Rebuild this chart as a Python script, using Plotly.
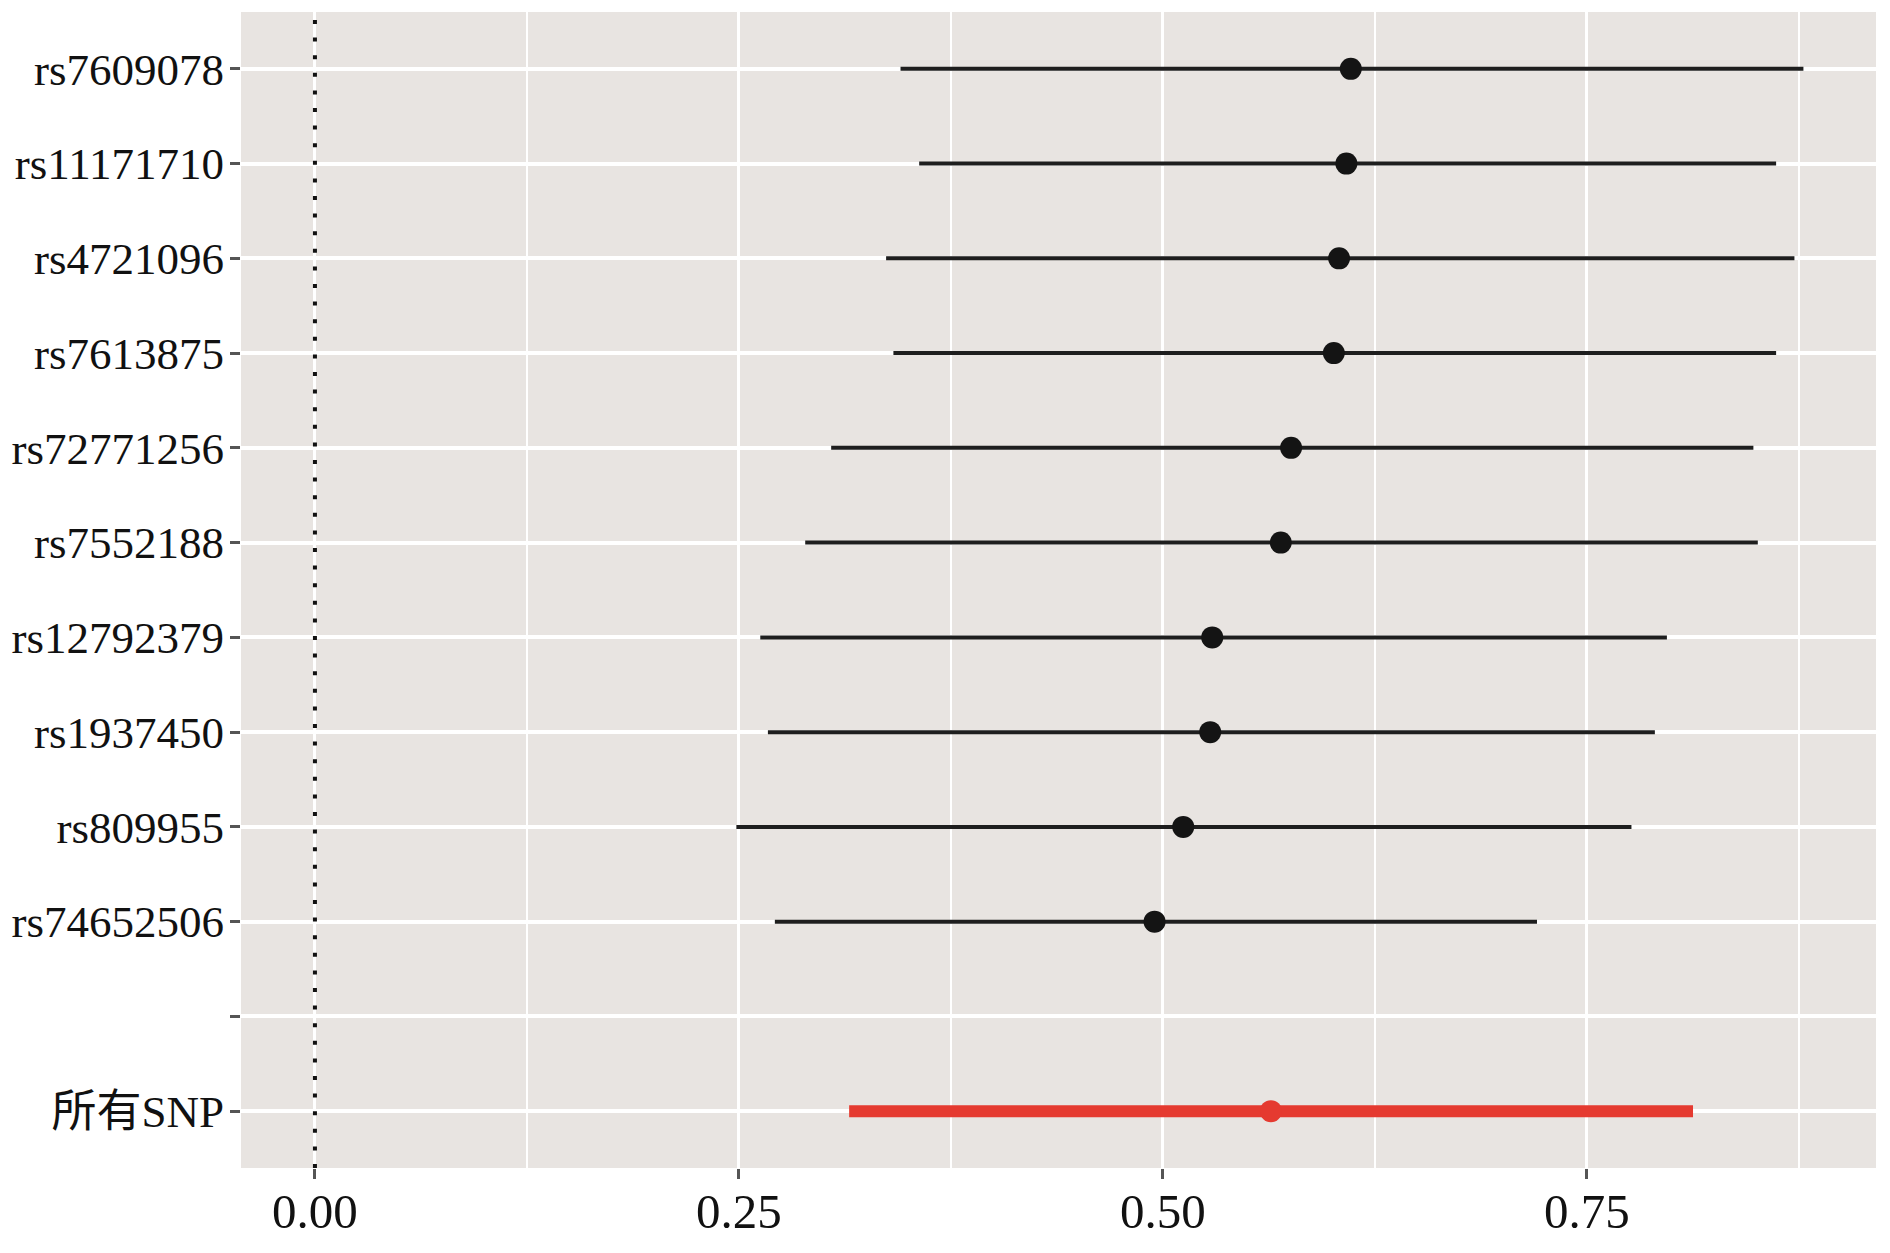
import plotly.graph_objects as go

# ---- data ----
snps = ["rs7609078", "rs11171710", "rs4721096", "rs7613875", "rs72771256",
        "rs7552188", "rs12792379", "rs1937450", "rs809955", "rs74652506"]
snp_est = [0.6108, 0.6082, 0.6039, 0.6008, 0.5756, 0.5695, 0.5291, 0.5279, 0.5120, 0.4951]
snp_low = [0.3453, 0.3563, 0.3368, 0.3411, 0.3044, 0.2891, 0.2626, 0.2671, 0.2485, 0.2712]
snp_high = [0.8777, 0.8616, 0.8724, 0.8616, 0.8482, 0.8508, 0.7972, 0.7901, 0.7763, 0.7206]

overall_label = "所有SNP"
overall_est = [0.5637]
overall_low = [0.3150]
overall_high = [0.8126]

# y tick labels (blank row separates the overall estimate)
y_labels = snps + ["", overall_label]
x_tick_vals = [0.0, 0.25, 0.50, 0.75]
x_tick_text = ["0.00", "0.25", "0.50", "0.75"]
null_effect = 0.0

# ---- positions ----
y_snp = list(range(len(snps)))
y_sep = len(snps)
y_overall = [len(snps) + 1]

SERIF = "Liberation Serif, Times New Roman, Noto Sans CJK SC, serif"

fig = go.Figure()

fig.add_trace(go.Scatter(
    x=snp_est, y=y_snp, mode="markers",
    marker=dict(size=22, color="#141414"),
    error_x=dict(type="data", symmetric=False,
                 array=[h - e for h, e in zip(snp_high, snp_est)],
                 arrayminus=[e - l for e, l in zip(snp_est, snp_low)],
                 color="#1e1e1e", thickness=4, width=0),
    showlegend=False, hoverinfo="x+y",
))

fig.add_trace(go.Scatter(
    x=overall_est, y=y_overall, mode="markers",
    marker=dict(size=22, color="#E53A30"),
    error_x=dict(type="data", symmetric=False,
                 array=[h - e for h, e in zip(overall_high, overall_est)],
                 arrayminus=[e - l for e, l in zip(overall_est, overall_low)],
                 color="#E53A30", thickness=12, width=0),
    showlegend=False, hoverinfo="x+y",
))

# separator line between single SNPs and the overall estimate
fig.add_hline(y=y_sep, line=dict(color="#a9a7a5", width=2.2), layer="below")
# null-effect reference line
fig.add_vline(x=null_effect, line=dict(color="#111111", width=4, dash="4px,13.6px"), layer="above")

fig.update_layout(
    width=1882, height=1245,
    margin=dict(l=233, r=14, t=4, b=85, pad=0),
    paper_bgcolor="white",
    plot_bgcolor="#E8E4E1",
    font=dict(family=SERIF, color="#111111"),
)

fig.update_xaxes(
    range=[-0.0436, 0.9205],
    tickmode="array", tickvals=x_tick_vals, ticktext=x_tick_text,
    ticks="outside", ticklen=10, tickwidth=2.5, tickcolor="#555555",
    tickfont=dict(family=SERIF, size=49, color="#111111"),
    ticklabelstandoff=-10,
    showgrid=True, gridcolor="white", gridwidth=3,
    minor=dict(tick0=0.125, dtick=0.25, showgrid=True, gridcolor="white", gridwidth=2.2),
    zeroline=False, showline=False, automargin=False,
)

fig.update_yaxes(
    range=[len(y_labels) - 1 + 0.6, -0.6],
    tickmode="array", tickvals=list(range(len(y_labels))), ticktext=y_labels,
    ticks="outside", ticklen=10, tickwidth=2.5, tickcolor="#555555",
    tickfont=dict(family=SERIF, size=45, color="#111111"),
    ticklabelstandoff=-3,
    showgrid=True, gridcolor="white", gridwidth=3.5,
    zeroline=False, showline=False, automargin=False,
)

fig.write_html("out.html")
